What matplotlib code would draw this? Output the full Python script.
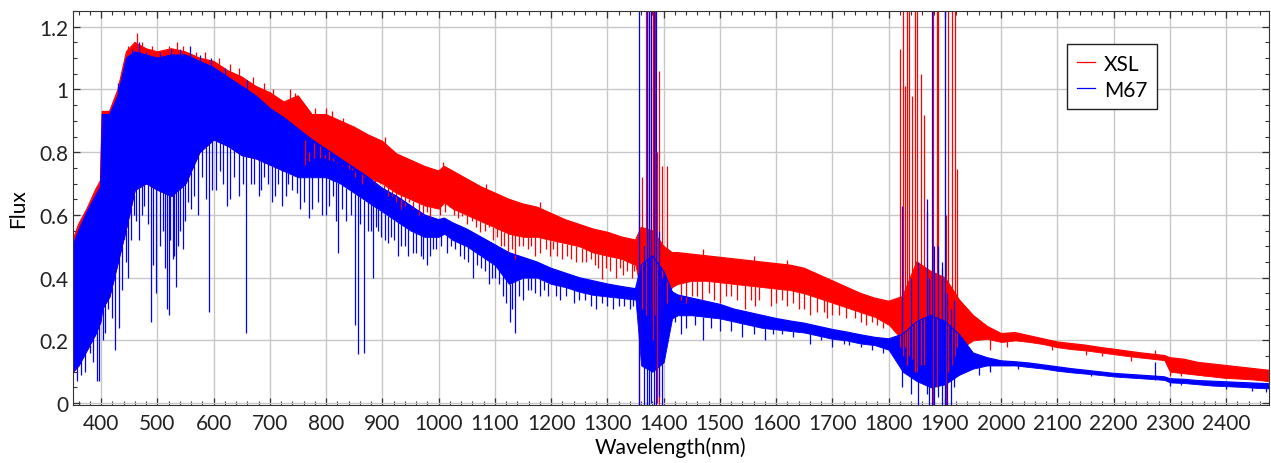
import matplotlib
matplotlib.use('Agg')
import matplotlib.pyplot as plt
from matplotlib.ticker import MultipleLocator, FuncFormatter
import numpy as np

# Spectra: wavelength grid (nm) with upper/lower edges of each spectrum's body
wl = [350, 360, 375, 390, 399,
      402, 415, 430, 445, 460,
      480, 500, 525, 550, 575,
      600, 625, 650, 675, 700,
      725, 750, 775, 800, 825,
      850, 875, 900, 925, 950,
      975, 1000, 1010, 1025, 1050,
      1075, 1100, 1125, 1150, 1175,
      1200, 1225, 1250, 1275, 1300,
      1325, 1350, 1360, 1380, 1400,
      1415, 1425, 1450, 1475, 1500,
      1525, 1550, 1575, 1600, 1625,
      1650, 1675, 1700, 1725, 1750,
      1775, 1800, 1825, 1850, 1875,
      1900, 1925, 1950, 1975, 2000,
      2025, 2050, 2075, 2100, 2125,
      2150, 2175, 2200, 2225, 2250,
      2275, 2290, 2300, 2325, 2350,
      2375, 2400, 2425, 2450, 2475]

xsl_hi = [0.52, 0.57, 0.62, 0.68, 0.71,
          0.93, 0.93, 1.00, 1.12, 1.15,
          1.13, 1.12, 1.13, 1.12, 1.10,
          1.09, 1.06, 1.04, 1.01, 0.99,
          0.96, 0.98, 0.92, 0.92, 0.90,
          0.88, 0.855, 0.835, 0.795, 0.775,
          0.755, 0.74, 0.755, 0.74, 0.715,
          0.69, 0.67, 0.65, 0.635, 0.625,
          0.605, 0.585, 0.57, 0.555, 0.545,
          0.53, 0.52, 0.56, 0.55, 0.50,
          0.48, 0.48, 0.475, 0.47, 0.465,
          0.46, 0.455, 0.45, 0.445, 0.44,
          0.43, 0.41, 0.39, 0.37, 0.35,
          0.335, 0.325, 0.34, 0.45, 0.42,
          0.40, 0.33, 0.28, 0.245, 0.222,
          0.225, 0.215, 0.205, 0.195, 0.19,
          0.185, 0.178, 0.172, 0.166, 0.16,
          0.155, 0.152, 0.145, 0.14, 0.13,
          0.125, 0.12, 0.115, 0.11, 0.105]

xsl_lo = [0.10, 0.12, 0.17, 0.22, 0.26,
          0.30, 0.34, 0.45, 0.56, 0.68,
          0.70, 0.68, 0.66, 0.70, 0.80,
          0.84, 0.82, 0.79, 0.78, 0.76,
          0.74, 0.74, 0.78, 0.78, 0.76,
          0.74, 0.72, 0.70, 0.67, 0.65,
          0.63, 0.62, 0.64, 0.62, 0.60,
          0.58, 0.56, 0.54, 0.53, 0.53,
          0.52, 0.51, 0.50, 0.48, 0.47,
          0.46, 0.44, 0.35, 0.30, 0.33,
          0.37, 0.38, 0.39, 0.39, 0.385,
          0.38, 0.375, 0.37, 0.365, 0.36,
          0.35, 0.335, 0.32, 0.305, 0.29,
          0.275, 0.25, 0.20, 0.15, 0.12,
          0.13, 0.17, 0.20, 0.205, 0.195,
          0.20, 0.195, 0.188, 0.178, 0.172,
          0.168, 0.162, 0.156, 0.15, 0.145,
          0.14, 0.137, 0.10, 0.095, 0.09,
          0.085, 0.08, 0.078, 0.075, 0.07]

m67_hi = [0.50, 0.55, 0.61, 0.66, 0.69,
          0.92, 0.92, 0.98, 1.10, 1.12,
          1.11, 1.10, 1.11, 1.11, 1.09,
          1.07, 1.04, 1.01, 0.98, 0.94,
          0.91, 0.875, 0.84, 0.81, 0.78,
          0.75, 0.72, 0.685, 0.66, 0.63,
          0.60, 0.585, 0.59, 0.575, 0.555,
          0.53, 0.505, 0.48, 0.465, 0.45,
          0.43, 0.415, 0.40, 0.39, 0.38,
          0.372, 0.365, 0.44, 0.47, 0.42,
          0.355, 0.345, 0.335, 0.325, 0.315,
          0.30, 0.29, 0.28, 0.27, 0.262,
          0.255, 0.245, 0.235, 0.227, 0.218,
          0.21, 0.205, 0.22, 0.26, 0.28,
          0.26, 0.22, 0.16, 0.145, 0.135,
          0.132, 0.128, 0.122, 0.116, 0.11,
          0.105, 0.10, 0.095, 0.092, 0.089,
          0.086, 0.084, 0.078, 0.076, 0.072,
          0.07, 0.068, 0.066, 0.064, 0.062]

m67_lo = [0.10, 0.12, 0.17, 0.22, 0.26,
          0.30, 0.34, 0.45, 0.56, 0.68,
          0.70, 0.68, 0.66, 0.70, 0.80,
          0.84, 0.82, 0.79, 0.78, 0.76,
          0.74, 0.72, 0.72, 0.72, 0.70,
          0.67, 0.64, 0.61, 0.58, 0.55,
          0.53, 0.53, 0.54, 0.52, 0.50,
          0.47, 0.44, 0.38, 0.40, 0.40,
          0.38, 0.37, 0.355, 0.345, 0.34,
          0.335, 0.33, 0.12, 0.10, 0.13,
          0.27, 0.28, 0.28, 0.275, 0.27,
          0.26, 0.25, 0.24, 0.235, 0.23,
          0.225, 0.215, 0.205, 0.20, 0.19,
          0.185, 0.17, 0.10, 0.07, 0.05,
          0.06, 0.09, 0.11, 0.12, 0.12,
          0.12, 0.115, 0.11, 0.103, 0.098,
          0.094, 0.09, 0.085, 0.082, 0.079,
          0.076, 0.074, 0.066, 0.064, 0.06,
          0.056, 0.054, 0.052, 0.049, 0.047]

# Absorption lines: (wavelength, minimum flux)
xsl_lines = [(762, 0.84), (770, 0.80), (778, 0.83), (790, 0.82), (798, 0.79),
             (806, 0.81), (812, 0.78), (819, 0.77), (828, 0.76), (840, 0.78),
             (846, 0.75), (852, 0.72), (863, 0.70), (870, 0.73), (880, 0.72),
             (887, 0.70), (896, 0.70), (903, 0.68), (910, 0.66), (917, 0.66),
             (924, 0.64), (934, 0.62), (940, 0.63), (948, 0.64), (955, 0.62),
             (965, 0.60), (972, 0.60), (979, 0.61), (985, 0.59), (993, 0.63),
             (1003, 0.60), (1012, 0.61), (1020, 0.64), (1028, 0.60), (1034, 0.59),
             (1041, 0.596), (1050, 0.57), (1060, 0.58), (1066, 0.56), (1074, 0.544),
             (1082, 0.55), (1090, 0.56), (1097, 0.52), (1104, 0.53), (1110, 0.50),
             (1117, 0.50), (1124, 0.48), (1130, 0.49), (1136, 0.458), (1143, 0.50),
             (1150, 0.50), (1158, 0.49), (1165, 0.50), (1172, 0.469), (1180, 0.48),
             (1190, 0.49), (1198, 0.47), (1204, 0.49), (1210, 0.47), (1220, 0.46),
             (1228, 0.47), (1235, 0.46), (1245, 0.45), (1255, 0.45), (1262, 0.45),
             (1270, 0.46), (1278, 0.44), (1284, 0.43), (1290, 0.395), (1297, 0.43),
             (1305, 0.42), (1315, 0.40), (1322, 0.43), (1328, 0.41), (1335, 0.42),
             (1343, 0.40), (1348, 0.42), (1430, 0.33), (1440, 0.32), (1450, 0.34),
             (1460, 0.34), (1468, 0.33), (1480, 0.35), (1490, 0.33), (1500, 0.32),
             (1510, 0.34), (1520, 0.34), (1530, 0.33), (1545, 0.30), (1555, 0.33),
             (1562, 0.31), (1570, 0.33), (1590, 0.31), (1600, 0.32), (1610, 0.33),
             (1620, 0.31), (1630, 0.32), (1640, 0.30), (1650, 0.30), (1660, 0.28),
             (1672, 0.29), (1685, 0.29), (1690, 0.27), (1700, 0.28), (1712, 0.28),
             (1725, 0.27), (1740, 0.27), (1750, 0.26), (1760, 0.25), (1770, 0.26),
             (1780, 0.25), (1790, 0.24), (1980, 0.17), (2010, 0.18), (2090, 0.17),
             (2150, 0.155), (2180, 0.15), (2230, 0.135), (2300, 0.087), (2320, 0.085),
             (2360, 0.09), (2410, 0.08), (2440, 0.078)]

m67_lines = [(357, 0.071), (365, 0.09), (372, 0.098), (380, 0.16), (386, 0.13),
             (393, 0.07), (397, 0.071), (403, 0.20), (407, 0.225), (413, 0.30),
             (419, 0.27), (425, 0.17), (432, 0.24), (437, 0.36), (440, 0.54),
             (444, 0.45), (448, 0.40), (453, 0.52), (458, 0.60), (462, 0.58),
             (467, 0.52), (472, 0.60), (477, 0.63), (483, 0.57), (488, 0.26),
             (492, 0.44), (498, 0.35), (505, 0.50), (510, 0.55), (513, 0.43),
             (517, 0.30), (520, 0.28), (523, 0.52), (527, 0.46), (530, 0.47),
             (534, 0.37), (537, 0.50), (541, 0.55), (546, 0.49), (550, 0.58),
             (555, 0.64), (560, 0.62), (566, 0.66), (573, 0.60), (580, 0.72),
             (586, 0.65), (591, 0.29), (597, 0.68), (604, 0.68), (611, 0.74),
             (617, 0.70), (623, 0.63), (630, 0.65), (637, 0.72), (645, 0.66),
             (652, 0.70), (658, 0.225), (666, 0.70), (672, 0.70), (680, 0.66),
             (685, 0.68), (690, 0.72), (697, 0.70), (703, 0.64), (709, 0.66),
             (715, 0.70), (721, 0.63), (728, 0.66), (733, 0.70), (740, 0.68),
             (748, 0.67), (754, 0.62), (760, 0.64), (769, 0.59), (775, 0.62),
             (785, 0.64), (793, 0.60), (800, 0.60), (806, 0.63), (812, 0.66),
             (818, 0.58), (822, 0.48), (829, 0.62), (836, 0.58), (845, 0.60),
             (852, 0.25), (856, 0.156), (860, 0.57), (868, 0.16), (875, 0.55),
             (880, 0.55), (883, 0.40), (888, 0.56), (893, 0.55), (898, 0.53),
             (905, 0.52), (910, 0.51), (915, 0.53), (921, 0.52), (928, 0.47),
             (933, 0.50), (940, 0.50), (946, 0.47), (955, 0.48), (960, 0.48),
             (968, 0.47), (973, 0.46), (979, 0.44), (985, 0.47), (990, 0.49),
             (995, 0.49), (1005, 0.50), (1015, 0.48), (1022, 0.50), (1030, 0.49),
             (1038, 0.47), (1045, 0.46), (1052, 0.45), (1061, 0.40), (1068, 0.44),
             (1075, 0.43), (1082, 0.42), (1089, 0.38), (1094, 0.40), (1100, 0.40),
             (1107, 0.38), (1115, 0.34), (1120, 0.32), (1126, 0.26), (1131, 0.30),
             (1136, 0.225), (1142, 0.34), (1150, 0.33), (1158, 0.36), (1165, 0.36),
             (1172, 0.35), (1180, 0.34), (1188, 0.36), (1195, 0.34), (1208, 0.34),
             (1215, 0.33), (1226, 0.34), (1240, 0.32), (1250, 0.33), (1260, 0.33),
             (1270, 0.31), (1280, 0.30), (1290, 0.32), (1300, 0.31), (1310, 0.30),
             (1320, 0.31), (1330, 0.31), (1340, 0.30), (1345, 0.31), (1420, 0.26),
             (1430, 0.22), (1440, 0.24), (1455, 0.25), (1470, 0.20), (1485, 0.24),
             (1500, 0.23), (1520, 0.23), (1540, 0.21), (1560, 0.22), (1580, 0.20),
             (1595, 0.22), (1610, 0.22), (1630, 0.21), (1660, 0.19), (1680, 0.20),
             (1700, 0.18), (1720, 0.19), (1730, 0.185), (1750, 0.18), (1770, 0.17),
             (1790, 0.16), (1960, 0.09), (1980, 0.10), (2030, 0.11), (2160, 0.085),
             (2300, 0.055), (2320, 0.058), (2400, 0.045), (2445, 0.04), (2470, 0.035)]

# Narrow peaks standing above the upper edge: (wavelength, maximum flux)
xsl_peaks = [(447, 1.14), (463, 1.18), (472, 1.15), (490, 1.14), (505, 1.12),
             (520, 1.14), (535, 1.15), (545, 1.14), (568, 1.12), (585, 1.12),
             (610, 1.10), (630, 1.08), (645, 1.07), (670, 1.04), (690, 1.02),
             (705, 1.00), (735, 1.00), (745, 0.99), (780, 0.94), (800, 0.94),
             (810, 0.93), (830, 0.91), (905, 0.85), (1008, 0.77), (1085, 0.70),
             (1180, 0.64), (1470, 0.49), (1560, 0.47), (1620, 0.455)]

m67_peaks = [(430, 1.02), (455, 1.13), (467, 1.15), (480, 1.12), (505, 1.12),
             (525, 1.13), (540, 1.13), (558, 1.14), (575, 1.11), (595, 1.10),
             (620, 1.07), (660, 1.03)]

# Telluric residual spikes: (wavelength, low, high)
xsl_spikes = [(1357, -0.02, 0.65), (1362, 0.30, 0.72), (1368, 0.28, 1.3), (1371, 0.30, 1.3),
              (1374, 0.25, 1.3), (1378, 0.30, 1.3), (1381, 0.20, 1.3), (1385, 0.28, 1.3),
              (1389, 0.0, 0.80), (1392, -0.02, 1.06), (1397, 0.30, 0.755), (1406, 0.32, 0.755),
              (1820, 0.18, 1.13), (1826, 0.15, 1.3), (1829, 0.18, 1.01), (1832, 0.12, 1.3),
              (1836, 0.15, 1.3), (1841, 0.14, 0.98), (1847, 0.10, 1.3), (1850, 0.10, 1.3),
              (1857, 0.12, 1.05), (1862, 0.12, 0.92), (1868, 0.15, 0.61), (1879, -0.02, 1.3),
              (1886, 0.05, 1.3), (1888, 0.08, 1.3), (1895, 0.10, 0.43), (1902, -0.02, 0.60),
              (1906, 0.10, 1.3), (1912, 0.12, 1.3), (1918, 0.15, 1.3), (1921, 0.18, 0.745),
              (2274, 0.14, 0.17)]

m67_spikes = [(1357, -0.02, 1.3), (1365, -0.02, 0.50), (1370, -0.02, 1.3), (1374, -0.02, 1.3),
              (1378, 0.0, 1.3), (1383, -0.02, 1.3), (1387, -0.02, 1.3), (1392, 0.02, 0.55),
              (1397, -0.02, 0.40), (1823, 0.05, 0.63), (1840, 0.03, 0.40), (1852, -0.02, 0.45),
              (1868, 0.03, 0.65), (1872, -0.02, 0.40), (1877, -0.02, 1.3), (1880, -0.02, 0.50),
              (1887, 0.02, 0.50), (1895, -0.02, 0.45), (1900, -0.02, 1.3), (1903, -0.02, 0.35),
              (1910, -0.02, 0.30), (1916, 0.05, 0.33), (2274, 0.075, 0.13)]

plt.rcParams['font.family'] = ['Lato', 'DejaVu Sans']

fig = plt.figure(figsize=(12.71, 4.64), dpi=100)
ax = fig.add_axes([0.0574, 0.125, 0.941, 0.849])


def draw_spectrum(lo, hi, lines, peaks, spikes, color, label):
    ax.fill_between(wl, lo, hi, color=color, linewidth=0.6, edgecolor=color)
    ax.plot(wl, hi, color=color, lw=0.8, label=label)
    lx, ly = zip(*lines)
    ax.vlines(lx, ly, np.interp(lx, wl, lo), colors=color, linewidth=0.9)
    px, py = zip(*peaks)
    ax.vlines(px, np.interp(px, wl, hi), py, colors=color, linewidth=0.9)
    sx, slo, shi = zip(*spikes)
    ax.vlines(sx, slo, shi, colors=color, linewidth=0.9)


draw_spectrum(xsl_lo, xsl_hi, xsl_lines, xsl_peaks, xsl_spikes, '#ff0000', 'XSL')
draw_spectrum(m67_lo, m67_hi, m67_lines, m67_peaks, m67_spikes, '#0000ff', 'M67')

ax.set_xlim(350, 2476)
ax.set_ylim(-0.006, 1.25)
ax.set_xticks(range(400, 2401, 100))
ax.xaxis.set_minor_locator(MultipleLocator(20))
ax.yaxis.set_major_locator(MultipleLocator(0.2))
ax.yaxis.set_minor_locator(MultipleLocator(0.05))
ax.yaxis.set_major_formatter(FuncFormatter(lambda v, p: f'{v:g}'))
ax.tick_params(which='both', direction='in', top=True, right=True,
               labelsize=15, colors='#333333', labelcolor='#222222')
ax.tick_params(which='major', length=5, width=0.9)
ax.tick_params(which='minor', length=3, width=0.8)
ax.tick_params(axis='x', which='major', pad=6)
ax.grid(True, which='major', color='#c8c8c8', lw=1.0)
ax.set_axisbelow(True)
for s in ax.spines.values():
    s.set_color('#333333')

ax.set_xlabel('Wavelength(nm)', fontsize=15, labelpad=2)
ax.set_ylabel('Flux', fontsize=15, labelpad=8)

leg = ax.legend(loc='upper right', bbox_to_anchor=(0.906, 0.916), fontsize=15,
                handlelength=0.9, fancybox=False, framealpha=1, edgecolor='#222222',
                borderpad=0.45, handletextpad=0.4, labelspacing=0.3, borderaxespad=0)
for h in leg.get_lines():
    h.set_linewidth(0.9)

fig.savefig('out.png', dpi=100)
